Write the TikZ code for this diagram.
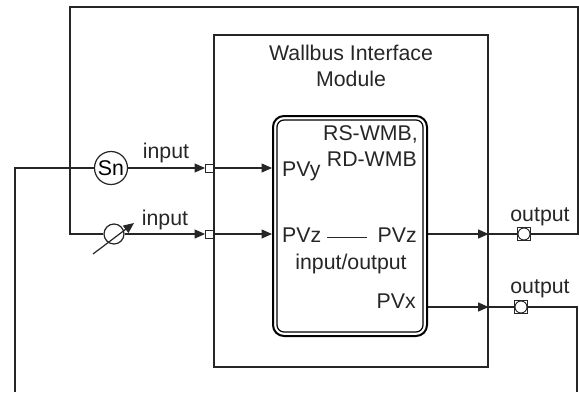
\documentclass[tikz,border=0pt]{standalone}
\usepackage{fontspec}
\setmainfont{Liberation Sans}
\usetikzlibrary{arrows.meta}
\begin{document}
\begin{tikzpicture}[x=1pt,y=-1pt,
  font=\fontsize{21.3}{25}\selectfont,
  ln/.style={line width=1.2pt, draw=black!85},
  arr/.style={ln, -{Triangle[length=10.5pt,width=9pt]}},
  txt/.style={inner sep=0pt, text=black!85},
  insq/.style={draw=black!85, rectangle, minimum size=8pt, inner sep=0pt, fill=white, line width=0.9pt},
  outsq/.style={draw=black!85, rectangle, minimum size=13pt, inner sep=0pt, fill=white, line width=0.9pt,
    path picture={\draw[black!85, line width=0.9pt] (path picture bounding box.center) circle (6pt);}},
  circ/.style={draw=black!85, circle, line width=1.2pt, inner sep=0pt, fill=white}
]
\useasboundingbox (0,0) rectangle (579,392);

% module box
\node[ln, rectangle, minimum width=274pt, minimum height=332pt, inner sep=0pt] (wim) at (351,201) {};
\node[txt, anchor=base] (t1) at (351,60) {Wallbus Interface};
\node[txt, anchor=base] (t2) at (351,86) {Module};

% device box (double rounded)
\node[draw=black, rectangle, rounded corners=11pt, line width=2pt, minimum width=154pt, minimum height=220pt, inner sep=0pt] (dev) at (350,226) {};
\draw[black, line width=1.2pt, rounded corners=7pt] ([shift={(5,5)}]dev.north west) rectangle ([shift={(-5,-5)}]dev.south east);

\node[txt, anchor=base east] (rs) at (418,140) {RS-WMB,};
\node[txt, anchor=base east] (rd) at (417,166) {RD-WMB};
\node[txt, anchor=base west] (pvy) at (282,176) {PVy};
\node[txt, anchor=base west] (pvzl) at (282,242) {PVz};
\node[txt, anchor=base east] (pvzr) at (417,242) {PVz};
\node[txt, anchor=base] (io) at (351,269) {input/output};
\node[txt, anchor=base east] (pvx) at (416,308) {PVx};
\coordinate (d1) at (327,237);
\coordinate (d2) at (367,237);
\draw[black!85, line width=0.8pt] (d1) -- (d2);

% input side
\node[circ, minimum size=33pt] (sn) at (111,168) {Sn};
\node[circ, minimum size=20pt] (mtr) at (114,234) {};
\node[insq] (sq1) at (209.5,168) {};
\node[insq] (sq2) at (209.5,234) {};
\node[txt] (in1) at (166,153) {input};
\node[txt] (in2) at (165,220) {input};

\coordinate (bl) at (15,392);
\coordinate (tl) at (70,7);
\coordinate (tr) at (578,7);
\coordinate (br) at (577,392);
\coordinate (ma1) at (93,254);
\coordinate (ma2) at (134,223);

\draw[ln] (bl) |- (sn.west);
\draw[arr] (sn.east) -- (sq1.west);
\draw[arr] (sq1.east) -- (sq1.east -| dev.west);
\draw[arr] (mtr.east) -- (sq2.west);
\draw[arr] (sq2.east) -- (sq2.east -| dev.west);
\draw[arr] (ma1) -- (ma2);

% output side
\node[outsq] (osq1) at (524,234) {};
\node[outsq] (osq2) at (521,307) {};
\node[txt] (out1) at (540,217) {output};
\node[txt] (out2) at (540,289) {output};

\draw[arr] (dev.east |- osq1) -- (wim.east |- osq1);
\draw[ln] (wim.east |- osq1) -- (osq1.west);
\draw[arr] (dev.east |- osq2) -- (wim.east |- osq2);
\draw[ln] (wim.east |- osq2) -- (osq2.west);

\draw[ln] (osq1.east) -| (tr) -- (tl) |- (mtr.west);
\draw[ln] (osq2.east) -| (br);
\end{tikzpicture}
\end{document}
